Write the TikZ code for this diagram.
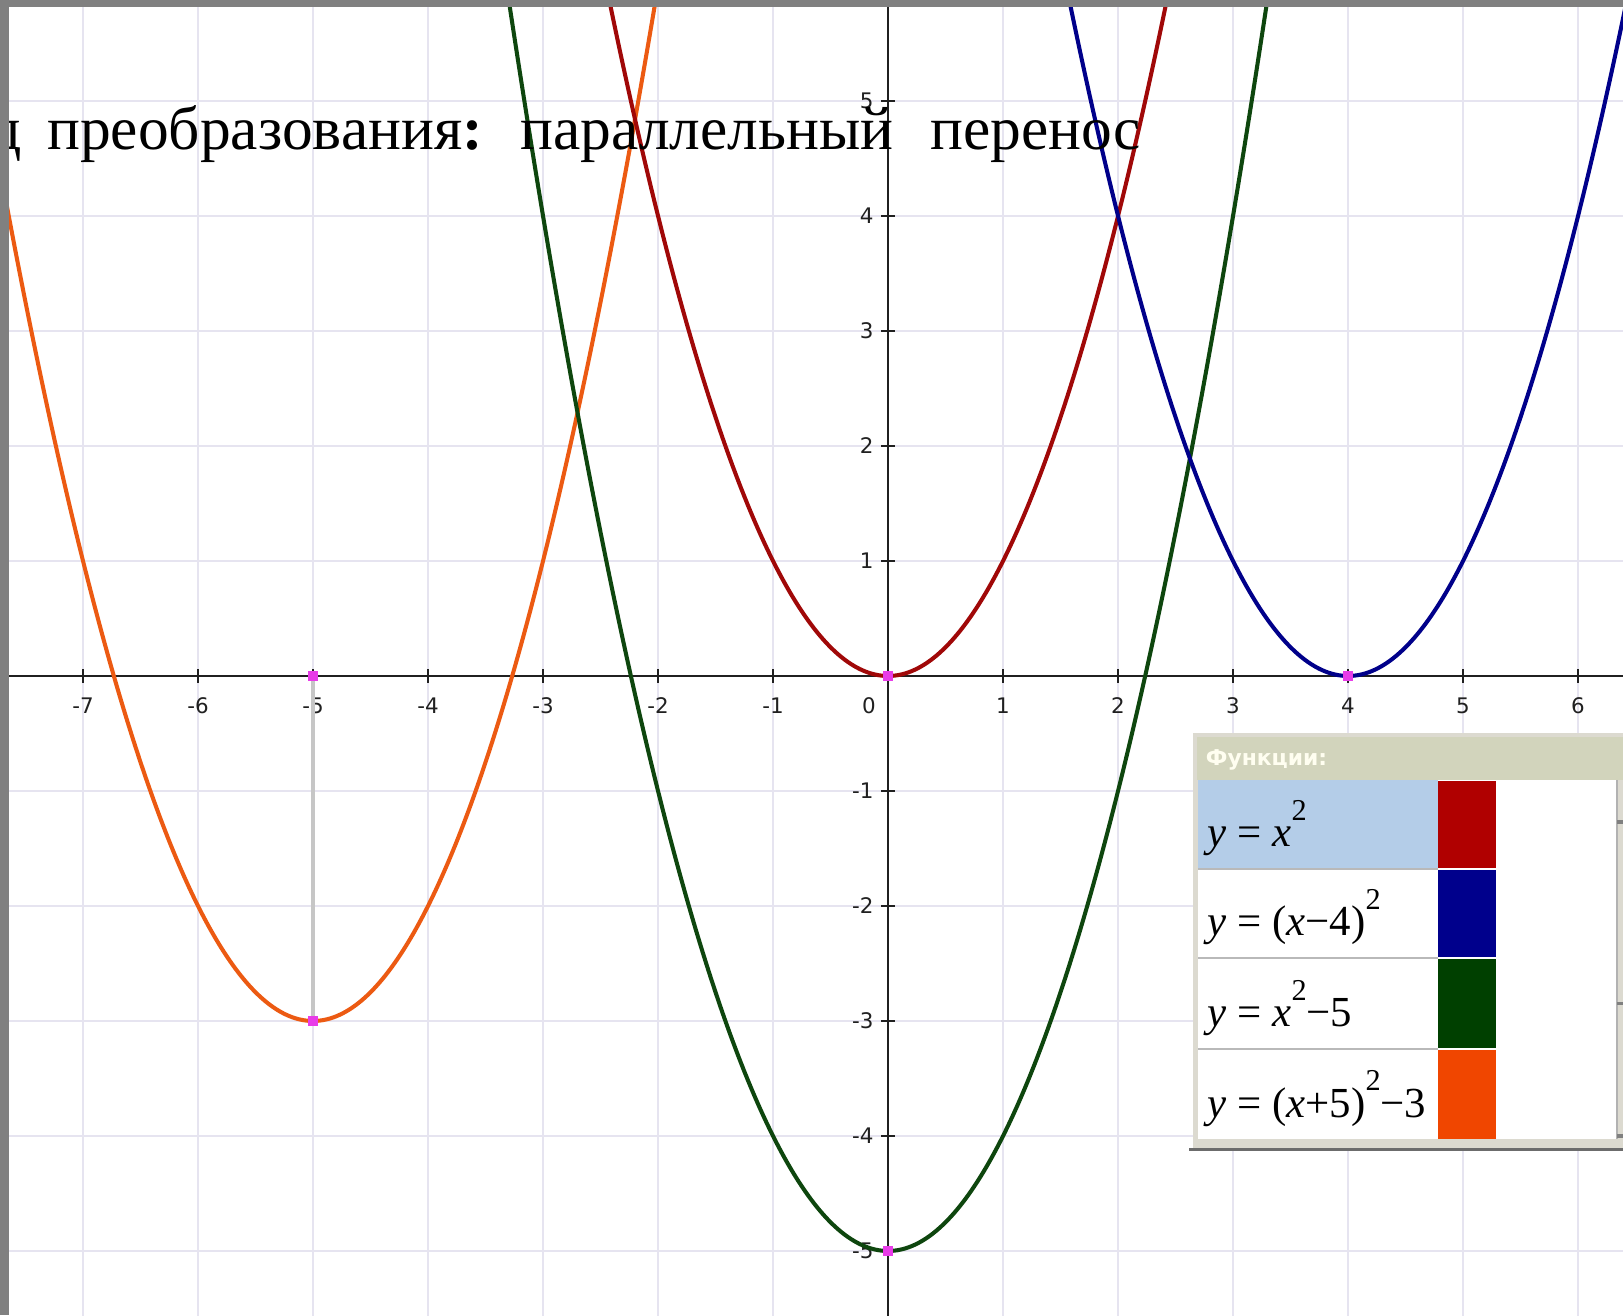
\documentclass[tikz,border=0pt]{standalone}
\usepackage{fontspec}
\setmainfont{Liberation Serif}
\newfontfamily\tickfont{DejaVu Sans}
\newfontfamily\hdrfont{DejaVu Sans}
\definecolor{gridc}{HTML}{E6E4F0}
\definecolor{axisc}{HTML}{202020}
\definecolor{tickc}{HTML}{202020}
\definecolor{redc}{HTML}{A00808}
\definecolor{bluec}{HTML}{00008A}
\definecolor{greenc}{HTML}{0E460E}
\definecolor{orangec}{HTML}{EC5A12}
\definecolor{swred}{HTML}{B00000}
\definecolor{swblue}{HTML}{00008C}
\definecolor{swgreen}{HTML}{004000}
\definecolor{sworange}{HTML}{F04600}
\definecolor{magc}{HTML}{E83CE8}
\definecolor{framec}{HTML}{DCDAD0}
\definecolor{hdrc}{HTML}{D2D4BC}
\definecolor{selc}{HTML}{B4CDE8}
\definecolor{bordc}{HTML}{808080}
\newcommand\sqr{\raisebox{0.62em}{\fontsize{7.5}{8}\selectfont 2}}
\begin{document}
\begin{tikzpicture}[x=1cm,y=1cm,
  gridline/.style={gridc,line width=0.5pt},
  axisline/.style={axisc,line width=0.5pt},
  tickmark/.style={axisc,line width=0.45pt},
  ticklabel/.style={inner sep=0pt,text=tickc,font=\tickfont\fontsize{5.3}{6}\selectfont},
  curve/.style={line width=1.0pt,smooth,samples=300},
  vmark/.style={rectangle,fill=magc,minimum size=0.09cm,inner sep=0pt},
  guide/.style={gray!45,line width=0.8pt},
  legtext/.style={anchor=base west,inner sep=0pt,font=\fontsize{10.6}{12}\selectfont},
  sep/.style={gray!55,line width=0.35pt}]
\useasboundingbox (-7.722,-5.557) rectangle (6.391,5.878);
\fill[white] (-7.722,-5.557) rectangle (6.391,5.878);
\begin{scope}
\clip (-7.722,-5.557) rectangle (6.391,5.878);
% grid
\foreach \i in {-7,...,6} \draw[gridline] (\i,-5.6) -- (\i,5.9);
\foreach \j in {-5,...,5} \draw[gridline] (-7.8,\j) -- (6.4,\j);
% axes
\draw[axisline] (-7.8,0) -- (6.4,0);
\draw[axisline] (0,-5.6) -- (0,5.9);
\foreach \i in {-7,...,-1,1,2,...,6} {
  \draw[tickmark] (\i,-0.06) -- (\i,0.06);
  \node[ticklabel] (xl\i) at (\i,-0.26) {\i};
}
\node[ticklabel] (xl0) at (-0.165,-0.26) {0};
\foreach \j in {-5,...,-1,1,2,...,5} {
  \draw[tickmark] (-0.06,\j) -- (0.06,\j);
  \node[ticklabel,anchor=east] (yl\j) at (-0.12,\j) {\j};
}
% guide line
\coordinate (g1) at (-5,0);
\coordinate (g2) at (-5,-3);
\draw[guide] (g1) -- (g2);
% curves
\draw[curve,orangec,domain=-8:-1.9] plot (\x,{(\x+5)*(\x+5)-3});
\draw[curve,greenc,domain=-3.5:3.5] plot (\x,{\x*\x-5});
\draw[curve,redc,domain=-2.5:2.5] plot (\x,{\x*\x});
\draw[curve,bluec,domain=1.5:6.5] plot (\x,{(\x-4)*(\x-4)});
% vertex marks
\node[vmark] (m1) at (0,0) {};
\node[vmark] (m2) at (4,0) {};
\node[vmark] (m3) at (0,-5) {};
\node[vmark] (m4) at (-5,-3) {};
\node[vmark] (m5) at (-5,0) {};
% legend panel
\fill[framec] (2.652,-0.496) rectangle (6.45,-4.115);
\fill[hdrc] (2.687,-0.530) rectangle (6.45,-0.904);
\fill[white] (2.696,-0.904) rectangle (6.339,-4.026);
\fill[selc] (2.696,-0.904) rectangle (4.783,-1.678);
\fill[swred] (4.783,-0.912) rectangle (5.287,-1.672);
\fill[swblue] (4.783,-1.686) rectangle (5.287,-2.446);
\fill[swgreen] (4.783,-2.460) rectangle (5.287,-3.237);
\fill[sworange] (4.783,-3.251) rectangle (5.287,-4.026);
\draw[sep] (2.696,-1.678) -- (4.783,-1.678);
\draw[sep] (2.696,-2.452) -- (4.783,-2.452);
\draw[sep] (2.696,-3.243) -- (4.783,-3.243);
\draw[gray!60,line width=0.4pt] (6.339,-0.904) -- (6.339,-4.026);
\draw[gray,line width=0.8pt] (6.339,-1.27) -- (6.39,-1.27);
\draw[gray,line width=0.8pt] (6.339,-2.85) -- (6.39,-2.85);
\draw[gray,line width=0.8pt] (6.339,-4.0) -- (6.39,-4.0);
\draw[gray!85!black,line width=0.7pt] (2.62,-4.118) -- (6.45,-4.118);
\node[anchor=west,inner sep=0pt,text=white!94!yellow,font=\hdrfont\bfseries\fontsize{5.4}{6}\selectfont] (hdr) at (2.757,-0.730) {Функции:};
\node[legtext] (f1) at (2.774,-1.487) {\textit{y} = \textit{x}\sqr};
\node[legtext] (f2) at (2.774,-2.261) {\textit{y} = (\textit{x}−4)\sqr};
\node[legtext] (f3) at (2.774,-3.052) {\textit{y} = \textit{x}\sqr−5};
\node[legtext] (f4) at (2.774,-3.835) {\textit{y} = (\textit{x}+5)\sqr−3};
% title
\node[anchor=base west,inner sep=0pt,font=\fontsize{15.2}{18}\selectfont] (title) at (-7.809,4.574)
  {\makebox[14.0pt][l]{д}\makebox[117.1pt][l]{преобразования{\bfseries :}}\makebox[101.4pt][l]{параллельный}перенос};
% window border
\fill[bordc] (-7.722,5.817) rectangle (6.391,5.878);
\fill[bordc] (-7.722,-5.557) rectangle (-7.644,5.878);
\end{scope}
\end{tikzpicture}
\end{document}
